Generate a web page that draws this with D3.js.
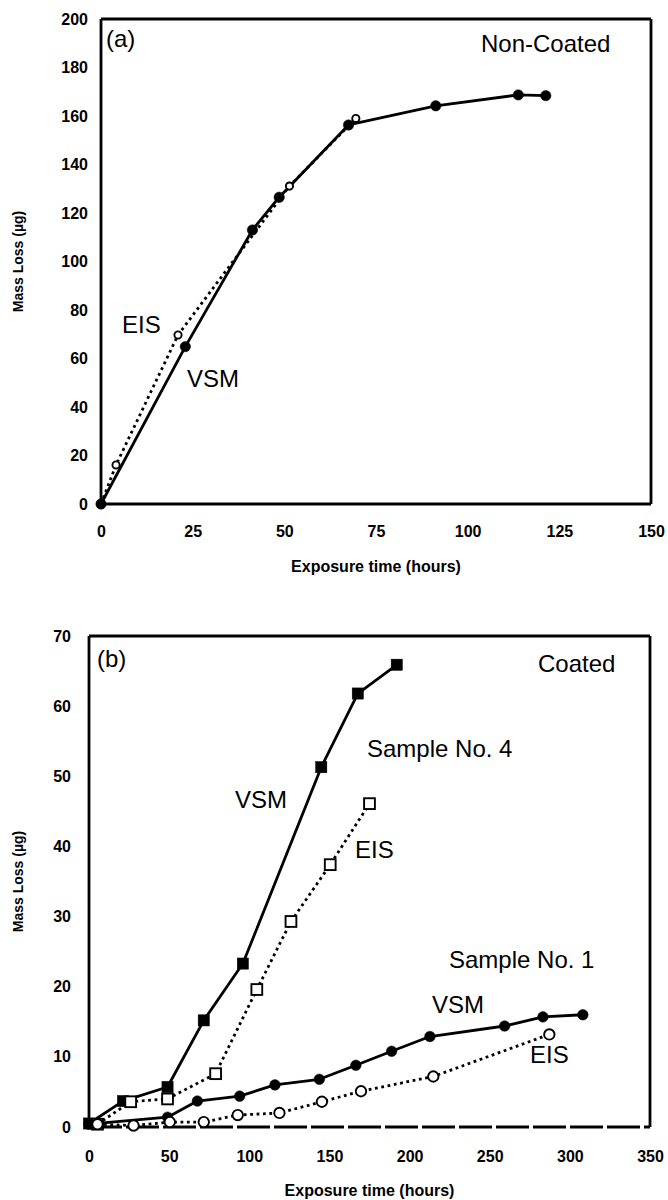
<!DOCTYPE html>
<html>
<head>
<meta charset="utf-8">
<script src="https://cdn.jsdelivr.net/npm/d3@7"></script>
<style>
  body { margin: 0; background: #fff; }
  text { font-family: "Liberation Sans", Arial, Helvetica, sans-serif; fill: #000; }
</style>
</head>
<body>
<svg id="fig" width="668" height="1200"></svg>
<script>
// ---- Panel (a): non-coated sample ----
const hoursA_VSM = [0, 23, 41.3, 48.6, 67.5, 91.3, 113.8, 121.3];
const lossA_VSM  = [0, 64.9, 113, 126.5, 156.3, 164.2, 168.7, 168.4];
const hoursA_EIS = [0, 4.1, 21, 51.4, 69.5];
const lossA_EIS  = [0, 16.1, 69.7, 131.1, 159];
const ticksA_x = [0, 25, 50, 75, 100, 125, 150];
const ticksA_y = [0, 20, 40, 60, 80, 100, 120, 140, 160, 180, 200];

// ---- Panel (b): coated samples ----
const hoursS4_VSM = [0, 21.2, 49, 71.6, 96, 144.9, 167.7, 192];
const lossS4_VSM  = [0.5, 3.7, 5.7, 15.2, 23.3, 51.3, 61.8, 65.9];
const hoursS4_EIS = [5.3, 26, 49, 79, 104.7, 126, 150.5, 175];
const lossS4_EIS  = [0.4, 3.6, 4.0, 7.6, 19.6, 29.3, 37.4, 46.1];
const hoursS1_VSM = [0, 49, 67.6, 94, 116, 143.7, 166.5, 188.8, 212.7, 259.3, 283.2, 308.1];
const lossS1_VSM  = [0.4, 1.4, 3.7, 4.4, 6.0, 6.8, 8.8, 10.8, 12.9, 14.4, 15.7, 16.0];
const hoursS1_EIS = [5.3, 27.8, 50.4, 71.6, 92.8, 118.8, 145.3, 169.7, 214.8, 287.2];
const lossS1_EIS  = [0.4, 0.2, 0.7, 0.7, 1.7, 2.0, 3.6, 5.1, 7.2, 13.2];
const ticksB_x = [0, 50, 100, 150, 200, 250, 300, 350];
const ticksB_y = [0, 10, 20, 30, 40, 50, 60, 70];

const xTitle = "Exposure time (hours)";
const yTitle = "Mass Loss (\u00b5g)";

const svg = d3.select("#fig");
svg.append("rect").attr("width", 668).attr("height", 1200).attr("fill", "#fff");

const zip = (xs, ys) => xs.map((h, i) => ({ h, v: ys[i] }));

function panel(cfg) {
  const x = d3.scaleLinear().domain(cfg.xDomain).range([cfg.left, cfg.right]);
  const y = d3.scaleLinear().domain(cfg.yDomain).range([cfg.bottom, cfg.top]);
  const g = svg.append("g");

  // axes: labels only, no tick marks
  const xAxis = g.append("g").attr("transform", `translate(0,${cfg.bottom})`)
    .call(d3.axisBottom(x).tickValues(cfg.xTicks).tickSize(0).tickPadding(cfg.xPad));
  const yAxis = g.append("g").attr("transform", `translate(${cfg.left},0)`)
    .call(d3.axisLeft(y).tickValues(cfg.yTicks).tickSize(0).tickPadding(cfg.yPad));
  [xAxis, yAxis].forEach(a => {
    a.select(".domain").remove();
    a.selectAll("text").attr("font-size", 16).attr("font-weight", "bold")
      .attr("font-family", '"Liberation Sans", Arial, sans-serif');
  });

  // frame
  const fw = 2.8;
  g.append("line").attr("x1", cfg.left).attr("x2", cfg.left).attr("y1", cfg.top).attr("y2", cfg.bottom)
    .attr("stroke", "#000").attr("stroke-width", fw);
  g.append("line").attr("x1", cfg.left).attr("x2", cfg.right).attr("y1", cfg.top).attr("y2", cfg.top)
    .attr("stroke", "#000").attr("stroke-width", fw);
  g.append("line").attr("x1", cfg.right).attr("x2", cfg.right).attr("y1", cfg.top).attr("y2", cfg.bottom)
    .attr("stroke", "#000").attr("stroke-width", fw);
  g.append("line").attr("x1", cfg.left).attr("x2", cfg.right).attr("y1", cfg.bottom).attr("y2", cfg.bottom)
    .attr("stroke", "#000").attr("stroke-width", cfg.bottomWidth || fw)
    .attr("stroke-dasharray", cfg.bottomDash || null);

  // axis titles
  g.append("text").attr("x", (cfg.left + cfg.right) / 2).attr("y", cfg.xTitleY)
    .attr("text-anchor", "middle").attr("font-size", 16).attr("font-weight", "bold").text(xTitle);
  g.append("text").attr("transform", `translate(${cfg.yTitleX},${(cfg.top + cfg.bottom) / 2}) rotate(-90)`)
    .attr("text-anchor", "middle").attr("font-size", 14).attr("font-weight", "bold").text(yTitle);

  const line = d3.line().x(d => x(d.h)).y(d => y(d.v));

  // series lines
  cfg.series.forEach(s => {
    g.append("path").datum(s.data).attr("d", line).attr("fill", "none")
      .attr("stroke", "#000").attr("stroke-width", 2.8)
      .attr("stroke-dasharray", s.dotted ? "2.8,3.6" : null)
      .attr("stroke-linejoin", "round");
  });

  // markers, drawn in the given order
  cfg.markerOrder.forEach(s => {
    const m = g.append("g");
    if (s.shape === "circle") {
      m.selectAll("circle").data(s.data).join("circle")
        .attr("cx", d => x(d.h)).attr("cy", d => y(d.v)).attr("r", s.size)
        .attr("fill", s.filled ? "#000" : "#fff").attr("stroke", "#000")
        .attr("stroke-width", s.filled ? 0.5 : 1.9);
    } else {
      m.selectAll("rect").data(s.data).join("rect")
        .attr("x", d => x(d.h) - s.size).attr("y", d => y(d.v) - s.size)
        .attr("width", s.size * 2).attr("height", s.size * 2)
        .attr("fill", s.filled ? "#000" : "#fff").attr("stroke", "#000")
        .attr("stroke-width", s.filled ? 0.5 : 1.9);
    }
  });

  // annotations
  cfg.notes.forEach(n => {
    g.append("text").attr("x", n.x).attr("y", n.y).attr("font-size", 24).text(n.t);
  });
}

// Panel (a)
const aVSM = { data: zip(hoursA_VSM, lossA_VSM), dotted: false, shape: "circle", filled: true, size: 5.2 };
const aEIS = { data: zip(hoursA_EIS, lossA_EIS), dotted: true, shape: "circle", filled: false, size: 3.6 };
panel({
  xDomain: [0, 150], yDomain: [0, 200],
  left: 101, right: 651, top: 19, bottom: 504,
  xTicks: ticksA_x, yTicks: ticksA_y, xPad: 22, yPad: 13,
  xTitleY: 572, yTitleX: 23,
  series: [aEIS, aVSM],
  markerOrder: [aEIS, aVSM],
  notes: [
    { t: "(a)", x: 106, y: 47 },
    { t: "Non-Coated", x: 481, y: 52 },
    { t: "EIS", x: 122, y: 333 },
    { t: "VSM", x: 187, y: 387 }
  ]
});

// Panel (b)
const s4VSM = { data: zip(hoursS4_VSM, lossS4_VSM), dotted: false, shape: "square", filled: true, size: 5.6 };
const s4EIS = { data: zip(hoursS4_EIS, lossS4_EIS), dotted: true, shape: "square", filled: false, size: 5.4 };
const s1VSM = { data: zip(hoursS1_VSM, lossS1_VSM), dotted: false, shape: "circle", filled: true, size: 5.3 };
const s1EIS = { data: zip(hoursS1_EIS, lossS1_EIS), dotted: true, shape: "circle", filled: false, size: 5.2 };
panel({
  xDomain: [0, 350], yDomain: [0, 70],
  left: 89, right: 650, top: 636, bottom: 1127,
  xTicks: ticksB_x, yTicks: ticksB_y, xPad: 24, yPad: 18,
  xTitleY: 1196, yTitleX: 23,
  bottomDash: "33,4", bottomWidth: 3,
  series: [s4VSM, s4EIS, s1VSM, s1EIS],
  markerOrder: [s4VSM, s1VSM, s4EIS, s1EIS],
  notes: [
    { t: "(b)", x: 97, y: 667 },
    { t: "Coated", x: 538, y: 672 },
    { t: "Sample No. 4", x: 367, y: 757 },
    { t: "VSM", x: 235, y: 808 },
    { t: "EIS", x: 355, y: 858 },
    { t: "Sample No. 1", x: 449, y: 968 },
    { t: "VSM", x: 432, y: 1013 },
    { t: "EIS", x: 530, y: 1063 }
  ]
});
</script>
</body>
</html>
